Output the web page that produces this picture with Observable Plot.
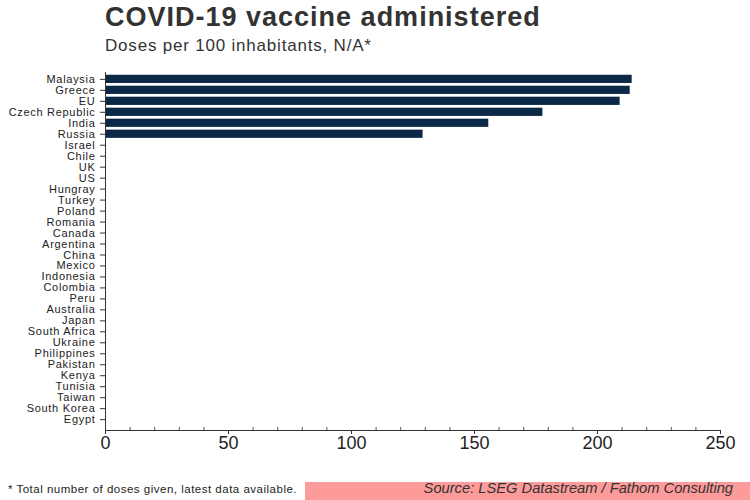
<!DOCTYPE html>
<html>
<head>
<meta charset="utf-8">
<script src="https://cdn.jsdelivr.net/npm/d3@7"></script>
<script src="https://cdn.jsdelivr.net/npm/@observablehq/plot@0.6"></script>
<style>
  html, body { margin: 0; padding: 0; background: #fff; }
  #wrap { position: relative; width: 750px; height: 500px; overflow: hidden; font-family: "Liberation Sans", Arial, sans-serif; }
  #title { position: absolute; left: 105px; top: 2px; font-size: 27px; letter-spacing: 1px; font-weight: bold; color: #333; white-space: nowrap; }
  #subtitle { position: absolute; left: 105px; top: 36px; font-size: 17px; letter-spacing: 0.8px; color: #333; white-space: nowrap; }
  #chart { position: absolute; left: 0; top: 60px; }
  #foot { position: absolute; left: 8px; top: 483px; font-size: 11.5px; letter-spacing: 0.5px; color: #222; white-space: nowrap; }
  #pink { position: absolute; left: 305px; top: 482px; width: 445px; height: 18px; background: #fd9a9a; }
  #source { position: absolute; right: 17px; top: 480px; font-size: 14.7px; font-style: italic; color: #333; white-space: nowrap; }
  #chart svg g[aria-label="y-axis tick label"] text { letter-spacing: 0.7px; }
</style>
</head>
<body>
<div id="wrap">
  <div id="title">COVID-19 vaccine administered</div>
  <div id="subtitle">Doses per 100 inhabitants, N/A*</div>
  <div id="chart"></div>
  <div id="pink"></div>
  <div id="foot">* Total number of doses given, latest data available.</div>
  <div id="source">Source: LSEG Datastream / Fathom Consulting</div>
</div>
<script>
const countries = ["Malaysia","Greece","EU","Czech Republic","India","Russia","Israel","Chile","UK","US","Hungray","Turkey","Poland","Romania","Canada","Argentina","China","Mexico","Indonesia","Colombia","Peru","Australia","Japan","South Africa","Ukraine","Philippines","Pakistan","Kenya","Tunisia","Taiwan","South Korea","Egypt"];
const doses = [214.1, 213.3, 209.2, 177.8, 155.8, 129.1, 0, 0, 0, 0, 0, 0, 0, 0, 0, 0, 0, 0, 0, 0, 0, 0, 0, 0, 0, 0, 0, 0, 0, 0, 0, 0];
const majorTicks = [0, 50, 100, 150, 200, 250];
const minorTicks = [10, 20, 30, 40, 60, 70, 80, 90, 110, 120, 130, 140, 160, 170, 180, 190, 210, 220, 230, 240];

const data = countries.map((c, i) => ({country: c, value: doses[i]}));

const chart = Plot.plot({
  width: 750,
  height: 420,
  marginTop: 12,
  marginBottom: 50,
  marginLeft: 105,
  marginRight: 30,
  style: {fontFamily: "Liberation Sans, Arial, sans-serif", color: "#222", background: "transparent"},
  x: {domain: [0, 250]},
  y: {domain: countries, padding: 0.25, insetBottom: 4, label: null},
  marks: [
    Plot.barX(data.filter(d => d.value > 0), {x: "value", y: "country", fill: "#0b2846"}),
    Plot.axisY({tickSize: 5, tickPadding: 5, fontSize: 11, label: null, stroke: "#333", fill: "#222"}),
    Plot.axisX({ticks: majorTicks, tickSize: 4, tickPadding: 2, fontSize: 18, label: null, stroke: "#333", fill: "#222"}),
    Plot.axisX({ticks: minorTicks, tickSize: 3, dy: -3, text: null, label: null, stroke: "#555"}),
    Plot.ruleX([0], {stroke: "#333"}),
    Plot.frame({anchor: "bottom", stroke: "#333"})
  ]
});
document.getElementById("chart").appendChild(chart);
</script>
</body>
</html>
